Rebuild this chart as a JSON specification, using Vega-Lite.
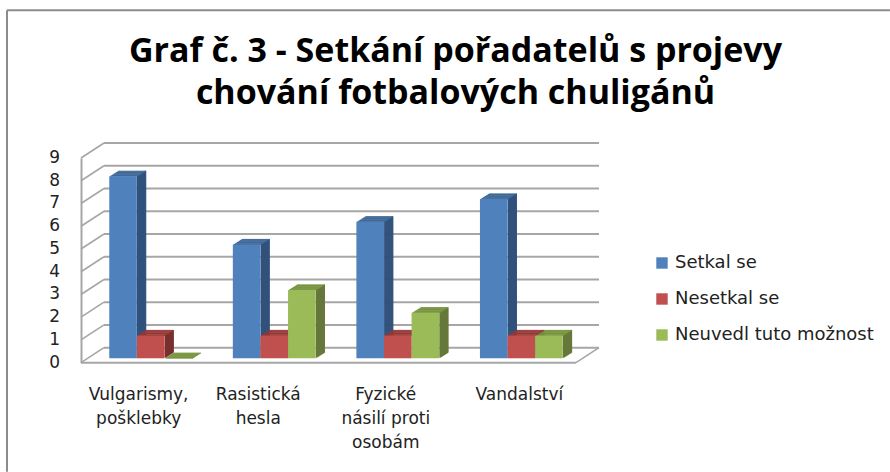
{"$schema":"https://vega.github.io/schema/vega-lite/v6.json","width":495,"height":204.7,"autosize":"none","padding":{"left":81,"top":158,"right":314,"bottom":109},"background":"white","config":{"view":{"stroke":null},"font":"Open Sans"},
"title":{"text":["Graf č. 3 - Setkání pořadatelů s projevy","chování fotbalových chuligánů"],"anchor":"middle","dx":127,"offset":-102,"font":"Open Sans","fontSize":34,"fontWeight":"bold","lineHeight":42,"color":"#000000"},
"datasets":{"bars":[
{"category":"Vulgarismy, pošklebky","series":"Setkal se","value":8},{"category":"Vulgarismy, pošklebky","series":"Nesetkal se","value":1},{"category":"Vulgarismy, pošklebky","series":"Neuvedl tuto možnost","value":0},
{"category":"Rasistická hesla","series":"Setkal se","value":5},{"category":"Rasistická hesla","series":"Nesetkal se","value":1},{"category":"Rasistická hesla","series":"Neuvedl tuto možnost","value":3},
{"category":"Fyzické násilí proti osobám","series":"Setkal se","value":6},{"category":"Fyzické násilí proti osobám","series":"Nesetkal se","value":1},{"category":"Fyzické násilí proti osobám","series":"Neuvedl tuto možnost","value":2},
{"category":"Vandalství","series":"Setkal se","value":7},{"category":"Vandalství","series":"Nesetkal se","value":1},{"category":"Vandalství","series":"Neuvedl tuto možnost","value":1}],
"levels":[{"level":0},{"level":1},{"level":2},{"level":3},{"level":4},{"level":5},{"level":6},{"level":7},{"level":8},{"level":9}],"one":[{"part":"frame"}]},
"resolve":{"scale":{"x":"independent"},"axis":{"x":"independent"}},
"layer":[
{"layer":[
{"data":{"name":"levels"},"mark":{"type":"rule","color":"#a6a6a6","strokeWidth":2,"xOffset":23,"x2Offset":23,"yOffset":-15},"encoding":{"y":{"field":"level","type":"quantitative","scale":{"domain":[0,9],"nice":false,"zero":false},"axis":{"title":null,"labels":false,"grid":false,"ticks":false,"domainColor":"#a6a6a6","domainWidth":2}},"x":{"datum":0,"type":"quantitative","scale":{"domain":[0,495],"nice":false,"zero":false},"axis":null},"x2":{"datum":495}}},
{"data":{"name":"levels"},"mark":{"type":"rule","color":"#a6a6a6","strokeWidth":1.6,"y2Offset":-15},"encoding":{"y":{"field":"level","type":"quantitative"},"y2":{"field":"level"},"x":{"datum":0,"type":"quantitative","axis":null},"x2":{"datum":23}}},
{"data":{"name":"levels"},"mark":{"type":"text","align":"right","baseline":"middle","font":"DejaVu Sans","fontSize":17,"color":"#222222"},"encoding":{"y":{"field":"level","type":"quantitative"},"x":{"datum":-21,"type":"quantitative","axis":null},"text":{"field":"level","type":"quantitative"}}},
{"data":{"name":"one"},"mark":{"type":"rule","color":"#a6a6a6","strokeWidth":2},"encoding":{"y":{"datum":0,"type":"quantitative"},"x":{"datum":0,"type":"quantitative","axis":null},"x2":{"datum":495}}},
{"data":{"name":"one"},"mark":{"type":"rule","color":"#a6a6a6","strokeWidth":1.6,"y2Offset":-15},"encoding":{"y":{"datum":0,"type":"quantitative"},"y2":{"datum":0},"x":{"datum":495,"type":"quantitative","axis":null},"x2":{"datum":518}}},
{"data":{"name":"one"},"mark":{"type":"rule","color":"#8c8c8c","strokeWidth":2},"encoding":{"y":{"datum":15.5,"type":"quantitative"},"x":{"datum":-74,"type":"quantitative","axis":null},"x2":{"datum":809}}},
{"data":{"name":"one"},"mark":{"type":"rule","color":"#8c8c8c","strokeWidth":2},"encoding":{"y":{"datum":15.5,"type":"quantitative"},"y2":{"datum":-4.8},"x":{"datum":-74,"type":"quantitative","axis":null}}}
]},
{"data":{"name":"bars"},
"encoding":{"xOffset":{"field":"series","type":"nominal","sort":["Setkal se","Nesetkal se","Neuvedl tuto možnost"],"scale":{"range":[0,82.8],"paddingInner":0,"paddingOuter":0}},"y":{"field":"value","type":"quantitative"},"y2":{"datum":0},"stroke":{"field":"series","type":"nominal","sort":["Setkal se","Nesetkal se","Neuvedl tuto možnost"],"scale":{"range":["#31527c","#7a302e","#66783a"]},"legend":null}},
"resolve":{"scale":{"x":"independent"},"axis":{"x":"independent"}},
"layer":[
{"mark":{"type":"rule","strokeWidth":1.8,"yOffset":-5.03,"y2Offset":-5.03},"encoding":{"x":{"field":"category","type":"nominal","sort":null,"axis":null,"scale":{"paddingInner":0.33,"paddingOuter":0.168,"range":[22.3,517.3]}}}},
{"mark":{"type":"rule","strokeWidth":1.8,"yOffset":-5.66,"y2Offset":-5.66},"encoding":{"x":{"field":"category","type":"nominal","sort":null,"axis":null,"scale":{"paddingInner":0.33,"paddingOuter":0.168,"range":[23.3,518.3]}}}},
{"mark":{"type":"rule","strokeWidth":1.8,"yOffset":-6.29,"y2Offset":-6.29},"encoding":{"x":{"field":"category","type":"nominal","sort":null,"axis":null,"scale":{"paddingInner":0.33,"paddingOuter":0.168,"range":[24.3,519.3]}}}},
{"mark":{"type":"rule","strokeWidth":1.8,"yOffset":-6.92,"y2Offset":-6.92},"encoding":{"x":{"field":"category","type":"nominal","sort":null,"axis":null,"scale":{"paddingInner":0.33,"paddingOuter":0.168,"range":[25.3,520.3]}}}},
{"mark":{"type":"rule","strokeWidth":1.8,"yOffset":-7.55,"y2Offset":-7.55},"encoding":{"x":{"field":"category","type":"nominal","sort":null,"axis":null,"scale":{"paddingInner":0.33,"paddingOuter":0.168,"range":[26.3,521.3]}}}},
{"mark":{"type":"rule","strokeWidth":1.8,"yOffset":-8.18,"y2Offset":-8.18},"encoding":{"x":{"field":"category","type":"nominal","sort":null,"axis":null,"scale":{"paddingInner":0.33,"paddingOuter":0.168,"range":[27.3,522.3]}}}},
{"mark":{"type":"rule","strokeWidth":1.8,"yOffset":-8.81,"y2Offset":-8.81},"encoding":{"x":{"field":"category","type":"nominal","sort":null,"axis":null,"scale":{"paddingInner":0.33,"paddingOuter":0.168,"range":[28.3,523.3]}}}},
{"mark":{"type":"rule","strokeWidth":1.8,"yOffset":-9.44,"y2Offset":-9.44},"encoding":{"x":{"field":"category","type":"nominal","sort":null,"axis":null,"scale":{"paddingInner":0.33,"paddingOuter":0.168,"range":[29.3,524.3]}}}},
{"mark":{"type":"rule","strokeWidth":1.2,"yOffset":-10.07,"y2Offset":-10.07},"encoding":{"x":{"field":"category","type":"nominal","sort":null,"axis":null,"scale":{"paddingInner":0.33,"paddingOuter":0.168,"range":[30.1,525.1]}}}}
]},
{"data":{"name":"bars"},
"encoding":{"xOffset":{"field":"series","type":"nominal","sort":["Setkal se","Nesetkal se","Neuvedl tuto možnost"],"scale":{"range":[0,82.8],"paddingInner":0,"paddingOuter":0}},"y":{"field":"value","type":"quantitative"},"y2":{"field":"value"},"fill":{"field":"series","type":"nominal","sort":["Setkal se","Nesetkal se","Neuvedl tuto možnost"],"scale":{"range":["#3c6596","#953735","#76923c"]},"legend":null}},
"resolve":{"scale":{"x":"independent"},"axis":{"x":"independent"}},
"layer":[
{"mark":{"type":"bar","yOffset":-5.03,"y2Offset":-4.03},"encoding":{"x":{"field":"category","type":"nominal","sort":null,"axis":null,"scale":{"paddingInner":0.33,"paddingOuter":0.168,"range":[8.5,503.5]}}}},
{"mark":{"type":"bar","yOffset":-5.66,"y2Offset":-4.66},"encoding":{"x":{"field":"category","type":"nominal","sort":null,"axis":null,"scale":{"paddingInner":0.33,"paddingOuter":0.168,"range":[9.5,504.5]}}}},
{"mark":{"type":"bar","yOffset":-6.29,"y2Offset":-5.29},"encoding":{"x":{"field":"category","type":"nominal","sort":null,"axis":null,"scale":{"paddingInner":0.33,"paddingOuter":0.168,"range":[10.5,505.5]}}}},
{"mark":{"type":"bar","yOffset":-6.92,"y2Offset":-5.92},"encoding":{"x":{"field":"category","type":"nominal","sort":null,"axis":null,"scale":{"paddingInner":0.33,"paddingOuter":0.168,"range":[11.5,506.5]}}}},
{"mark":{"type":"bar","yOffset":-7.55,"y2Offset":-6.55},"encoding":{"x":{"field":"category","type":"nominal","sort":null,"axis":null,"scale":{"paddingInner":0.33,"paddingOuter":0.168,"range":[12.5,507.5]}}}},
{"mark":{"type":"bar","yOffset":-8.18,"y2Offset":-7.18},"encoding":{"x":{"field":"category","type":"nominal","sort":null,"axis":null,"scale":{"paddingInner":0.33,"paddingOuter":0.168,"range":[13.5,508.5]}}}},
{"mark":{"type":"bar","yOffset":-8.81,"y2Offset":-7.81},"encoding":{"x":{"field":"category","type":"nominal","sort":null,"axis":null,"scale":{"paddingInner":0.33,"paddingOuter":0.168,"range":[14.5,509.5]}}}},
{"mark":{"type":"bar","yOffset":-9.44,"y2Offset":-8.44},"encoding":{"x":{"field":"category","type":"nominal","sort":null,"axis":null,"scale":{"paddingInner":0.33,"paddingOuter":0.168,"range":[15.5,510.5]}}}},
{"mark":{"type":"bar","yOffset":-10.07,"y2Offset":-9.07},"encoding":{"x":{"field":"category","type":"nominal","sort":null,"axis":null,"scale":{"paddingInner":0.33,"paddingOuter":0.168,"range":[16.5,511.5]}}}}
]},
{"data":{"name":"bars"},"mark":{"type":"bar","yOffset":-4.4,"y2Offset":-4.4},"encoding":{"x":{"field":"category","type":"nominal","sort":null,"scale":{"paddingInner":0.33,"paddingOuter":0.168,"range":[7.5,502.5]},"axis":{"orient":"bottom","title":null,"ticks":false,"domain":false,"labelAngle":0,"labelFont":"DejaVu Sans","labelFontSize":17,"labelColor":"#222222","labelPadding":24,"labelLineHeight":24,"labelOffset":{"expr":"{'Vulgarismy, pošklebky':-12,'Rasistická hesla':-16,'Fyzické násilí proti osobám':-12,'Vandalství':-2}[datum.value]"},"labelExpr":"{'Vulgarismy, pošklebky':['Vulgarismy,','pošklebky'],'Rasistická hesla':['Rasistická','hesla'],'Fyzické násilí proti osobám':['Fyzické','násilí proti','osobám'],'Vandalství':['Vandalství']}[datum.value]"}},"xOffset":{"field":"series","type":"nominal","sort":["Setkal se","Nesetkal se","Neuvedl tuto možnost"],"scale":{"range":[0,82.8],"paddingInner":0,"paddingOuter":0}},"y":{"field":"value","type":"quantitative"},"y2":{"datum":0},"color":{"field":"series","type":"nominal","sort":["Setkal se","Nesetkal se","Neuvedl tuto možnost"],"scale":{"range":["#4f81bd","#c0504d","#9bbb59"]},"legend":{"title":null,"orient":"none","legendX":572,"legendY":96,"symbolType":"square","symbolSize":130,"symbolOpacity":1,"symbolStrokeWidth":0,"labelFont":"DejaVu Sans","labelFontSize":18,"labelColor":"#222222","labelOffset":4,"rowPadding":18,"labelLimit":260}}}}
]}
